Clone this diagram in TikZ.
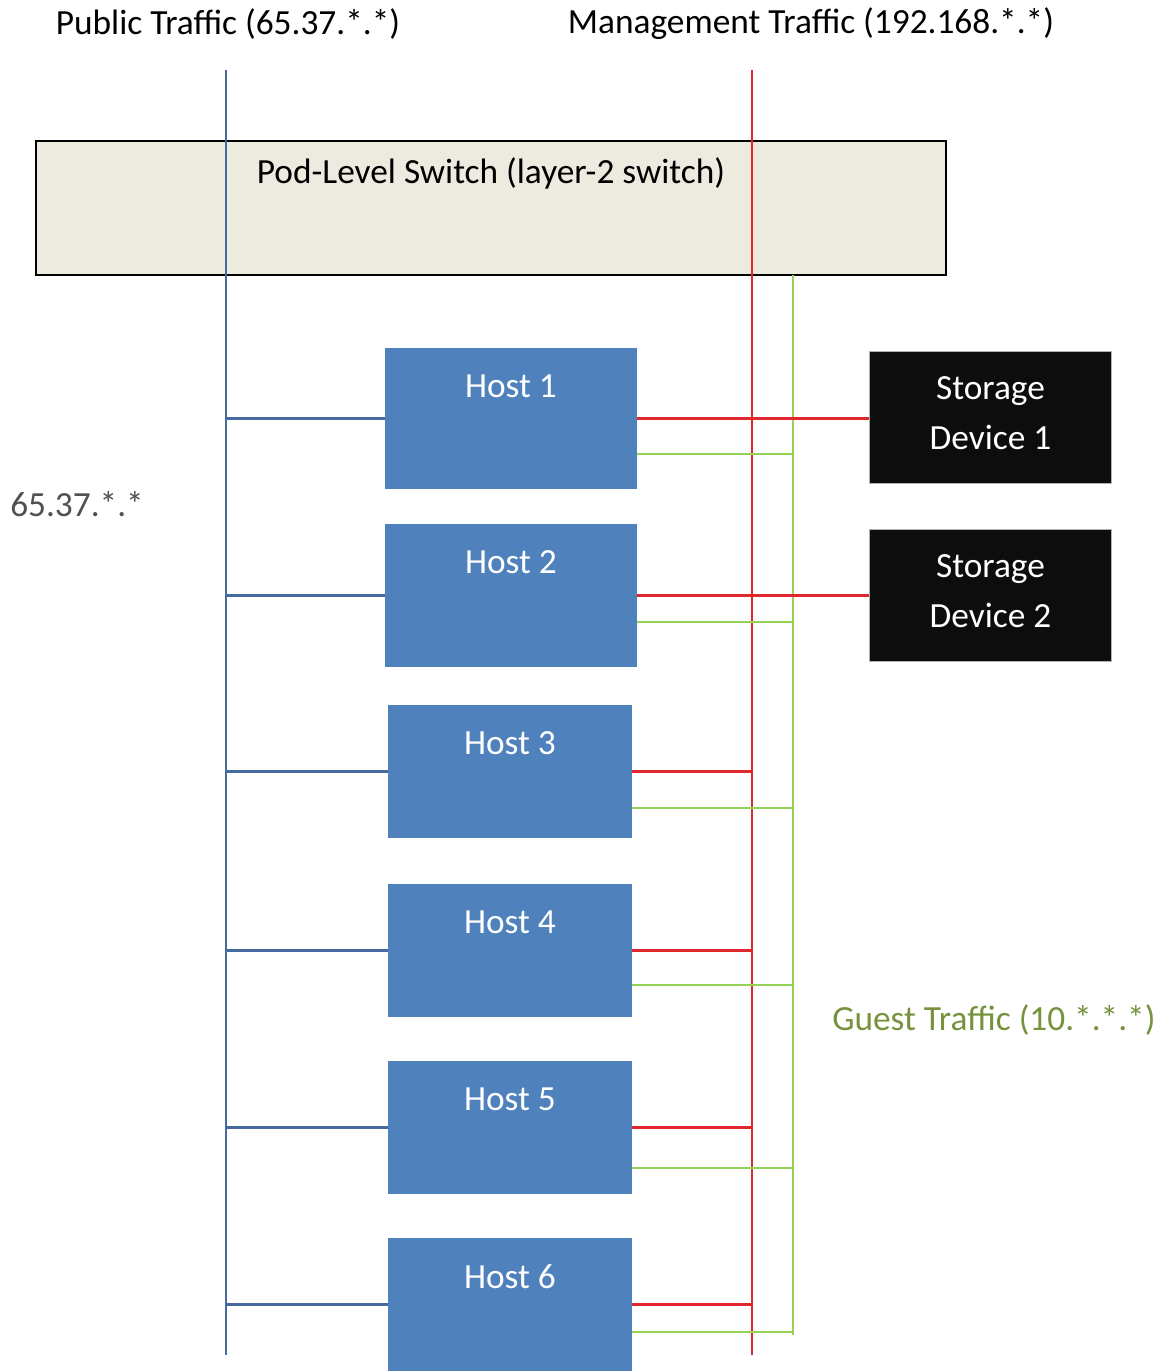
\documentclass[tikz,border=0pt]{standalone}
\usepackage{fontspec}
\setmainfont{Carlito}
\usetikzlibrary{positioning}

\definecolor{switchfill}{RGB}{237,234,224}
\definecolor{hostblue}{RGB}{79,129,189}
\definecolor{pubblue}{RGB}{70,106,160}
\definecolor{mgmtred}{RGB}{226,38,45}
\definecolor{guestgreen}{RGB}{150,210,85}
\definecolor{guesttext}{RGB}{118,146,60}
\definecolor{storblack}{RGB}{13,13,13}
\definecolor{labelgray}{RGB}{80,80,80}

\tikzset{
  every node/.style={font=\fontsize{26.5}{37.5}\selectfont},
  pub/.style={draw=pubblue, line width=1.6pt},
  mgmt/.style={draw=mgmtred, line width=1.6pt},
  guest/.style={draw=guestgreen, line width=1.6pt},
  host/.style={fill=hostblue, minimum width=183pt, minimum height=100pt, inner sep=0pt},
  hosttitle/.style={anchor=center, yshift=-29pt, text=white},
  storage/.style={fill=storblack, draw=gray!60, line width=0.6pt,
    minimum width=182pt, minimum height=99pt, inner sep=0pt},
  stortext/.style={anchor=center, yshift=3pt, text=white, align=center},
}

\begin{document}
\begin{tikzpicture}[x=0.75pt, y=-0.75pt]
\useasboundingbox (0,0) rectangle (1163,1371);

% titles
\node (pubtitle) at (228,24) {Public Traffic (65.37.*.*)};
\node (mgmttitle) at (811,24) {Management Traffic (192.168.*.*)};
\node[text=labelgray, anchor=west, inner sep=0pt] (publabel) at (10,504) {65.37.*.*};
\node[text=guesttext, anchor=west, inner sep=0pt] (guestlabel) at (832,1020) {Guest Traffic (10.*.*.*)};

% switch
\node[fill=switchfill, draw=black, line width=1.5pt, minimum width=682pt, minimum height=100pt,
  label={[anchor=center, yshift=-25pt]north:Pod-Level Switch (layer-2 switch)}] (switch) at (491,208) {};

% hosts
\node[host, minimum width=189pt, minimum height=106pt, label={[hosttitle]north:Host 1}] (host1) at (511,418.5) {};
\node[host, minimum width=189pt, minimum height=107pt, label={[hosttitle]north:Host 2}] (host2) at (511,595.5) {};
\node[host, label={[hosttitle]north:Host 3}] (host3) at (510,771.5) {};
\node[host, label={[hosttitle]north:Host 4}] (host4) at (510,950.5) {};
\node[host, label={[hosttitle]north:Host 5}] (host5) at (510,1127.5) {};
\node[host, label={[hosttitle]north:Host 6}] (host6) at (510,1304.5) {};

% storage
\node[storage, label={[stortext]center:Storage\\Device 1}] (stor1) at (990.5,417) {};
\node[storage, label={[stortext]center:Storage\\Device 2}] (stor2) at (990.5,595.5) {};

% bus lines
\coordinate (pubtop) at (226,70);
\coordinate (pubbot) at (226,1355);
\coordinate (mgmttop) at (752,70);
\coordinate (mgmtbot) at (752,1355);
\coordinate (guesttop) at (793,275);
\coordinate (guestbot) at (793,1335);
\coordinate (g1) at (793,454);
\coordinate (g2) at (793,622);
\coordinate (g3) at (793,808);
\coordinate (g4) at (793,985);
\coordinate (g5) at (793,1168);
\coordinate (g6) at (793,1332);

\draw[pub] (pubtop) -- (pubbot);
\draw[mgmt] (mgmttop) -- (mgmtbot);
\draw[guest] (guesttop) -- (guestbot);

% public links
\draw[pub] (host1.west -| pubtop) -- (host1.west);
\draw[pub] (host2.west -| pubtop) -- (host2.west);
\draw[pub] (host3.west -| pubtop) -- (host3.west);
\draw[pub] (host4.west -| pubtop) -- (host4.west);
\draw[pub] (host5.west -| pubtop) -- (host5.west);
\draw[pub] (host6.west -| pubtop) -- (host6.west);

% management links
\draw[mgmt] (host1.east) -- (host1.east -| stor1.west);
\draw[mgmt] (host2.east) -- (host2.east -| stor2.west);
\draw[mgmt] (host3.east) -- (host3.east -| mgmttop);
\draw[mgmt] (host4.east) -- (host4.east -| mgmttop);
\draw[mgmt] (host5.east) -- (host5.east -| mgmttop);
\draw[mgmt] (host6.east) -- (host6.east -| mgmttop);

% guest links
\draw[guest] (g1 -| host1.east) -- (g1);
\draw[guest] (g2 -| host2.east) -- (g2);
\draw[guest] (g3 -| host3.east) -- (g3);
\draw[guest] (g4 -| host4.east) -- (g4);
\draw[guest] (g5 -| host5.east) -- (g5);
\draw[guest] (g6 -| host6.east) -- (g6);
\end{tikzpicture}
\end{document}
